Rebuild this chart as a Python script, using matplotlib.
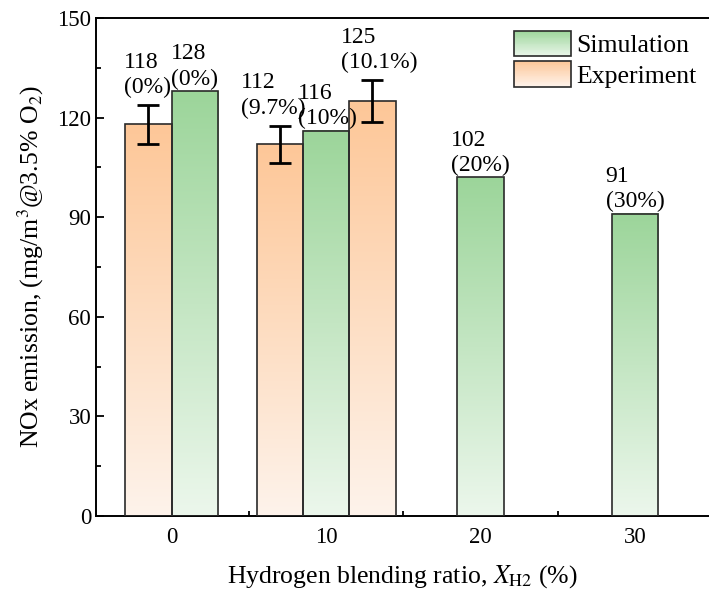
import numpy as np
import matplotlib
matplotlib.use("Agg")
import matplotlib.pyplot as plt
from matplotlib.colors import LinearSegmentedColormap, to_rgb
from matplotlib.patches import Rectangle
from matplotlib.legend_handler import HandlerBase
from matplotlib.ticker import MultipleLocator

plt.rcParams.update({"font.family": "Liberation Serif", "mathtext.fontset": "stix",
                     "xtick.direction": "in", "ytick.direction": "in"})

# ---- data ----
exp_pos = [-1.5, 7, 13]
exp_val = [118, 112, 125]
exp_err = [5.9, 5.6, 6.25]
exp_lab = ["118\n(0%)", "112\n(9.7%)", "125\n(10.1%)"]
sim_pos = [1.5, 10, 20, 30]
sim_val = [128, 116, 102, 91]
sim_lab = ["128\n(0%)", "116\n(10%)", "102\n(20%)", "91\n(30%)"]
xticks = [0, 10, 20, 30]
yticks = [0, 30, 60, 90, 120, 150]

W = 3.0
ORG_TOP, ORG_BOT = "#fdc798", "#fef3eb"
GRN_TOP, GRN_BOT = "#9cd59a", "#ecf7ec"
EDGE = "#2a2a2a"

def cmap(bot, top): return LinearSegmentedColormap.from_list("g", [bot, top])

def grad_bars(ax, pos, vals, bot, top):
    cm = cmap(bot, top); grad = np.linspace(0, 1, 256).reshape(-1, 1)
    for x, v in zip(pos, vals):
        ax.imshow(grad, extent=[x - W/2, x + W/2, 0, v], origin="lower", aspect="auto",
                  cmap=cm, zorder=2, interpolation="bilinear")
    ax.bar(pos, vals, width=W, facecolor="none", edgecolor=EDGE, lw=1.2, zorder=3)

class GradHandler(HandlerBase):
    def __init__(self, bot, top):
        super().__init__(); self.bot, self.top = np.array(to_rgb(bot)), np.array(to_rgb(top))
    def create_artists(self, legend, orig, xd, yd, w, h, fs, trans):
        arts = []; n = 30
        for i in range(n):
            c = self.bot + (self.top - self.bot) * (i + 0.5) / n
            arts.append(Rectangle((-xd, -yd + h*i/n), w, h/n + 0.05, facecolor=c, lw=0, transform=trans))
        arts.append(Rectangle((-xd, -yd), w, h, facecolor="none", edgecolor=EDGE, lw=1.2, transform=trans))
        return arts

fig = plt.figure(figsize=(7.09, 5.92), dpi=100)
ax = fig.add_axes([0.1354, 0.1284, 0.8646, 0.8412])

grad_bars(ax, exp_pos, exp_val, ORG_BOT, ORG_TOP)
grad_bars(ax, sim_pos, sim_val, GRN_BOT, GRN_TOP)
ax.errorbar(exp_pos, exp_val, yerr=exp_err, fmt="none", ecolor="black", elinewidth=2,
            capsize=8, capthick=2, zorder=4)

exp_dx = [-1, -5, 5]
for x, v, e, t, dx in zip(exp_pos, exp_val, exp_err, exp_lab, exp_dx):
    ax.annotate(t, (x, v + e), xytext=(dx, 5), textcoords="offset points", ha="center",
                va="bottom", fontsize=17, linespacing=1.25, multialignment="left")
sim_dx = [0, 1, 0, 0]
for x, v, t, dx in zip(sim_pos, sim_val, sim_lab, sim_dx):
    ax.annotate(t, (x, v), xytext=(dx, 1), textcoords="offset points", ha="center",
                va="bottom", fontsize=17, linespacing=1.25, multialignment="left")

ax.set_xlim(-4.9, 34.8); ax.set_ylim(0, 150)
ax.set_xticks(xticks); ax.set_yticks(yticks)
ax.xaxis.set_minor_locator(MultipleLocator(5)); ax.yaxis.set_minor_locator(MultipleLocator(15))
ax.tick_params(which="major", length=6, width=1.3, labelsize=16.5, top=False, right=False)
ax.tick_params(which="minor", length=3.5, width=1.3, top=False, right=False)
ax.tick_params(axis="x", pad=8)
for s in ["left", "bottom", "top"]: ax.spines[s].set_linewidth(1.4)
ax.spines["right"].set_visible(False)

ax.set_xlabel(r"Hydrogen blending ratio, $X_{\mathrm{H2}}$ (%)", fontsize=18.5, labelpad=11)
ax.set_ylabel(r"NOx emission, (mg/m$^3$@3.5% O$_2$)", fontsize=18.5, labelpad=8)

h1, h2 = Rectangle((0, 0), 1, 1), Rectangle((0, 0), 1, 1)
ax.legend([h1, h2], ["Simulation", "Experiment"], loc="upper right",
          bbox_to_anchor=(1.0, 1.0), frameon=False, fontsize=18.5,
          handlelength=2.2, handleheight=1.15, labelspacing=0.15, handletextpad=0.2,
          borderaxespad=0.1,
          handler_map={h1: GradHandler(GRN_BOT, GRN_TOP), h2: GradHandler(ORG_BOT, ORG_TOP)})

fig.savefig("out.png", dpi=100)
